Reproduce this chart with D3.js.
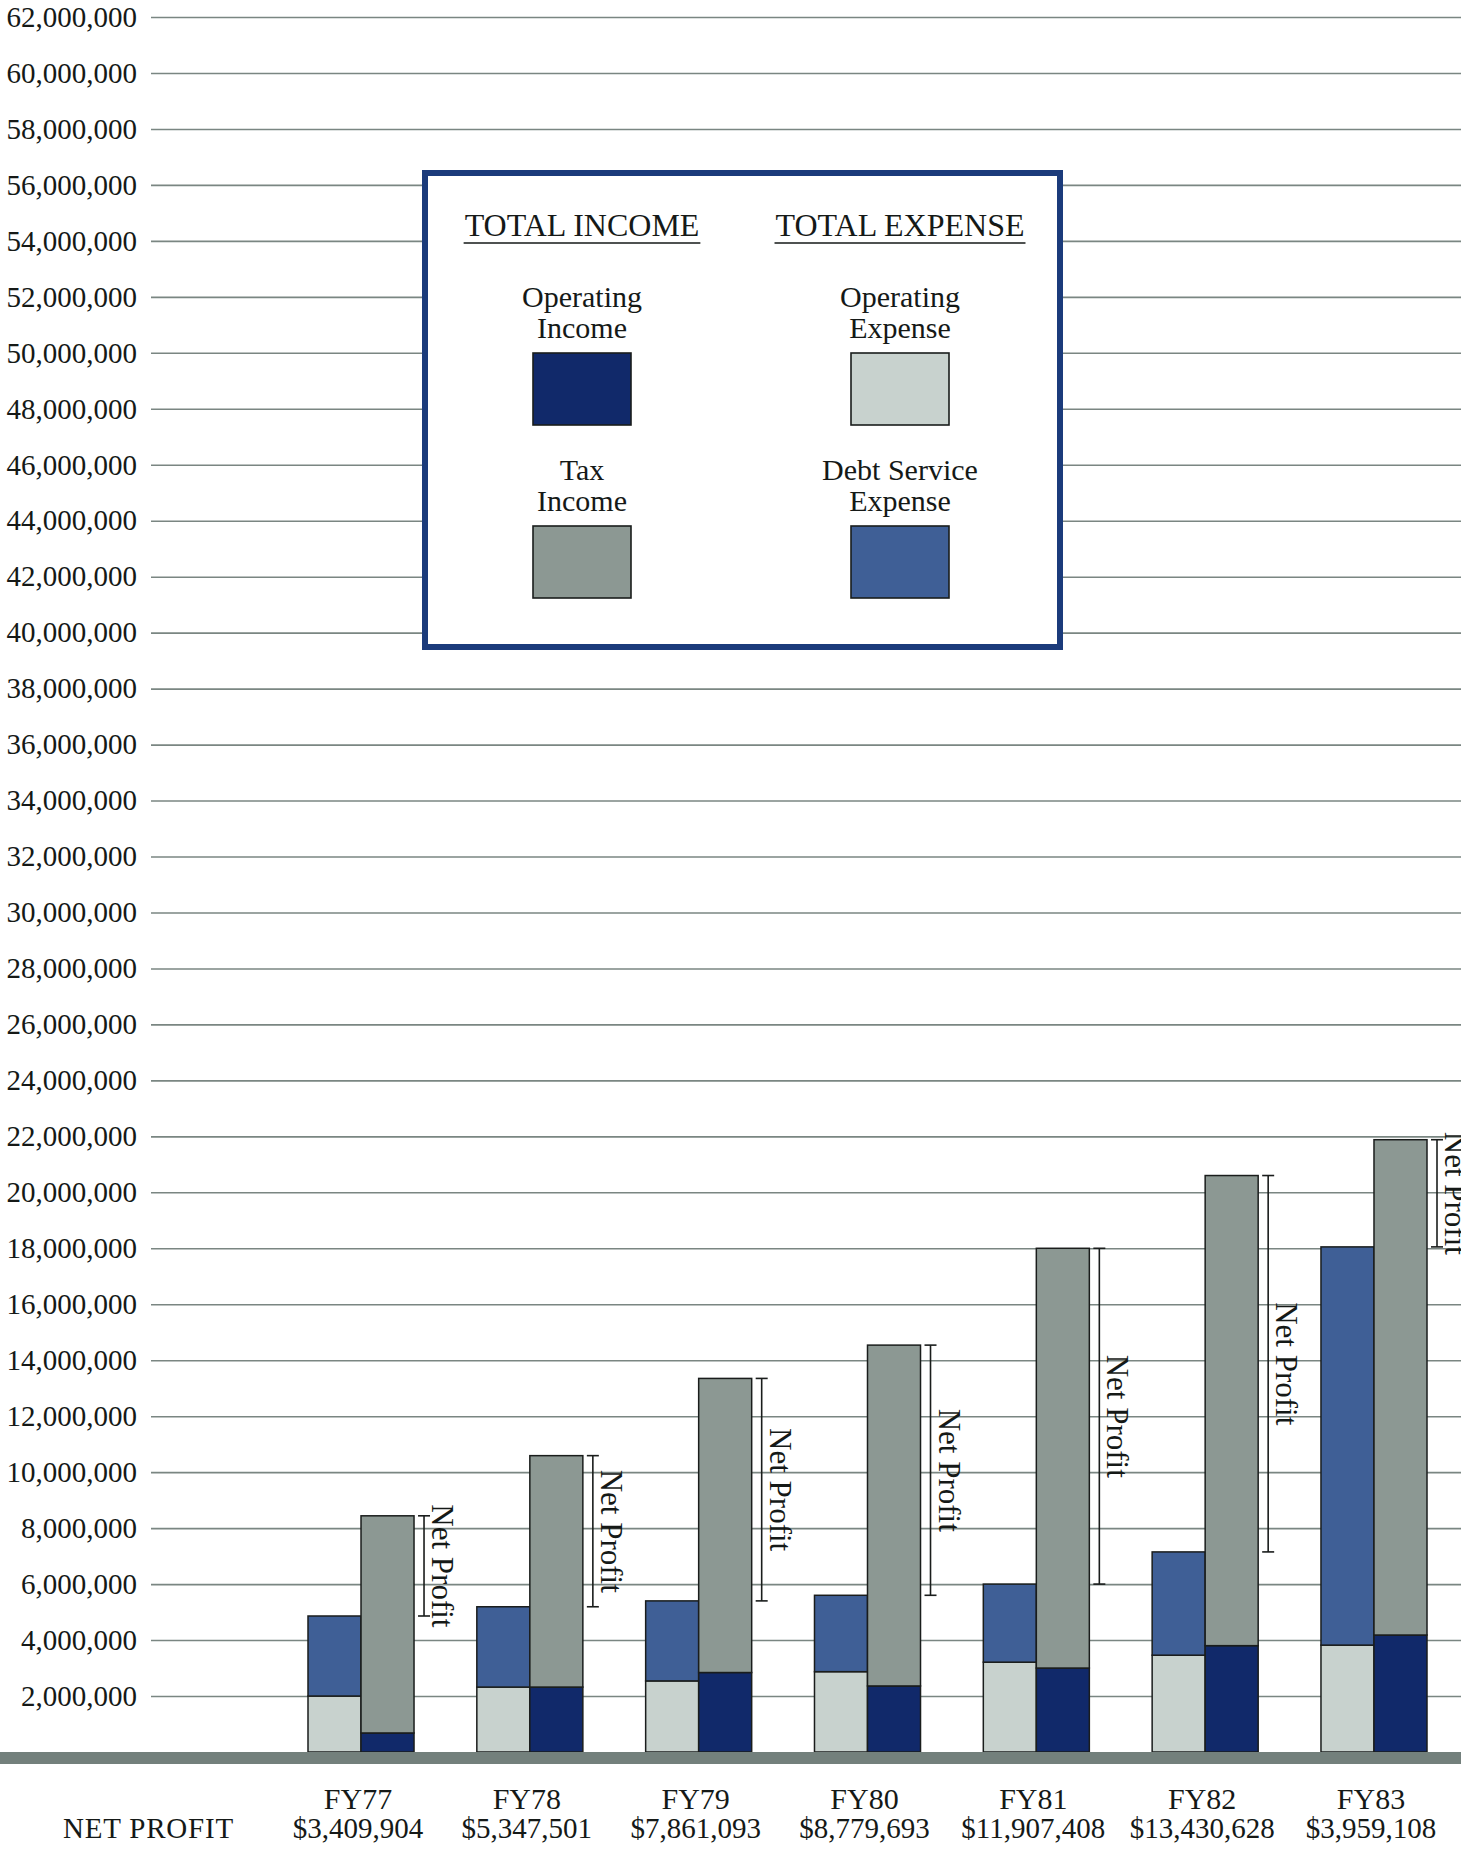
<!DOCTYPE html>
<html>
<head>
<meta charset="utf-8">
<script src="https://cdn.jsdelivr.net/npm/d3@7"></script>
<style>
  html, body { margin: 0; padding: 0; background: #fff; }
  svg { display: block; }
  text { font-family: "Liberation Serif", "Times New Roman", serif; fill: #151917; }
</style>
</head>
<body>
<svg id="chart" width="1461" height="1851"></svg>
<script>
// values (dollars)
var years = ["FY77", "FY78", "FY79", "FY80", "FY81", "FY82", "FY83"]
var netProfit = ["$3,409,904", "$5,347,501", "$7,861,093", "$8,779,693", "$11,907,408", "$13,430,628", "$3,959,108"]
var operatingExpense = [2000000, 2320000, 2540000, 2870000, 3210000, 3460000, 3820000]
var debtService = [2860000, 2870000, 2860000, 2730000, 2790000, 3690000, 14230000]
var operatingIncome = [680000, 2320000, 2840000, 2360000, 3000000, 3800000, 4180000]
var taxIncome = [7760000, 8270000, 10510000, 12180000, 15000000, 16800000, 17700000]
var yTicks = d3.range(2000000, 62000001, 2000000)

var colors = {
  opExp: "#c8d2ce",
  debt: "#3f5f96",
  opInc: "#11296a",
  tax: "#8c9893"
}

var width = 1461
var svg = d3.select("#chart")

var y = d3.scaleLinear().domain([0, 62000000]).range([1752, 17])
var x = d3.scaleBand().domain(years).range([308, 1427]).paddingInner(0.372).paddingOuter(0)
var sub = d3.scaleBand().domain(["expense", "income"]).range([0, x.bandwidth()])

// gridlines + tick labels
var axis = svg.append("g")
  .attr("transform", "translate(151,0)")
  .call(d3.axisLeft(y).tickValues(yTicks).tickSize(-(width - 151)).tickPadding(14).tickFormat(d3.format(",")))
axis.select(".domain").remove()
axis.selectAll(".tick line").attr("stroke", "#7a8682").attr("stroke-width", 1.6)
axis.selectAll(".tick text")
  .attr("font-size", 29)
  .attr("font-family", "Liberation Serif, serif")
  .attr("fill", "#151917")

// stacked bars
var rows = years.map((yr, i) => ({
  year: yr,
  opExp: operatingExpense[i],
  debt: debtService[i],
  opInc: operatingIncome[i],
  tax: taxIncome[i]
}))

var stackExp = d3.stack().keys(["opExp", "debt"])(rows)
var stackInc = d3.stack().keys(["opInc", "tax"])(rows)

var drawStack = (series, side) => {
  var g = svg.append("g")
  series.forEach(s => {
    g.selectAll(null)
      .data(s)
      .enter().append("rect")
      .attr("x", d => x(d.data.year) + sub(side))
      .attr("y", d => y(d[1]))
      .attr("width", sub.bandwidth())
      .attr("height", d => y(d[0]) - y(d[1]))
      .attr("fill", colors[s.key])
      .attr("stroke", "#1a1d1c")
      .attr("stroke-width", 1.5)
  })
}
drawStack(stackExp, "expense")
drawStack(stackInc, "income")

// baseline band
svg.append("rect")
  .attr("x", 0).attr("y", y(0))
  .attr("width", width).attr("height", 12)
  .attr("fill", "#73807c")

// net profit brackets
var br = svg.append("g")
rows.forEach(d => {
  var bx = x(d.year) + x.bandwidth() + 10
  var top = y(d.opInc + d.tax)
  var bot = y(d.opExp + d.debt)
  var g = br.append("g").attr("stroke", "#1a1d1c").attr("stroke-width", 1.6)
  g.append("line").attr("x1", bx).attr("x2", bx).attr("y1", top).attr("y2", bot)
  g.append("line").attr("x1", bx - 6).attr("x2", bx + 6).attr("y1", top).attr("y2", top)
  g.append("line").attr("x1", bx - 6).attr("x2", bx + 6).attr("y1", bot).attr("y2", bot)
  br.append("text")
    .attr("transform", "translate(" + (bx + 8) + "," + ((top + bot) / 2) + ") rotate(90)")
    .attr("text-anchor", "middle")
    .attr("font-size", 31)
    .text("Net Profit")
})

// bottom labels
svg.append("g").selectAll("text")
  .data(years).enter().append("text")
  .attr("x", d => x(d) + x.bandwidth() / 2 - 3)
  .attr("y", 1809)
  .attr("text-anchor", "middle")
  .attr("font-size", 30)
  .text(d => d)

svg.append("g").selectAll("text")
  .data(netProfit).enter().append("text")
  .attr("x", (d, i) => x(years[i]) + x.bandwidth() / 2 - 3)
  .attr("y", 1838)
  .attr("text-anchor", "middle")
  .attr("font-size", 29)
  .text(d => d)

svg.append("text")
  .attr("x", 63).attr("y", 1838)
  .attr("font-size", 29)
  .attr("letter-spacing", 0.8)
  .text("NET PROFIT")

// legend
var legendItems = [
  { lines: ["Operating", "Income"], key: "opInc", col: 0, row: 0 },
  { lines: ["Tax", "Income"], key: "tax", col: 0, row: 1 },
  { lines: ["Operating", "Expense"], key: "opExp", col: 1, row: 0 },
  { lines: ["Debt Service", "Expense"], key: "debt", col: 1, row: 1 }
]
var legendHeads = ["TOTAL INCOME", "TOTAL EXPENSE"]
var colX = [582, 900]

var lg = svg.append("g")
lg.append("rect")
  .attr("x", 425).attr("y", 173)
  .attr("width", 635).attr("height", 474)
  .attr("fill", "#fff")
  .attr("stroke", "#1b3b7b")
  .attr("stroke-width", 6)

legendHeads.forEach((h, i) => {
  var t = lg.append("text")
    .attr("x", colX[i]).attr("y", 236)
    .attr("text-anchor", "middle")
    .attr("font-size", 32)
    .text(h)
  var w = t.node().getComputedTextLength()
  lg.append("line")
    .attr("x1", colX[i] - w / 2 - 1).attr("x2", colX[i] + w / 2 + 1)
    .attr("y1", 243).attr("y2", 243)
    .attr("stroke", "#151917").attr("stroke-width", 1.5)
})

legendItems.forEach(d => {
  var cx = colX[d.col]
  var oy = d.row * 173
  d.lines.forEach((l, j) => {
    lg.append("text")
      .attr("x", cx).attr("y", 307 + oy + j * 31)
      .attr("text-anchor", "middle")
      .attr("font-size", 30)
      .text(l)
  })
  lg.append("rect")
    .attr("x", cx - 49).attr("y", 353 + oy)
    .attr("width", 98).attr("height", 72)
    .attr("fill", colors[d.key])
    .attr("stroke", "#1a1d1c")
    .attr("stroke-width", 1.6)
})
</script>
</body>
</html>
